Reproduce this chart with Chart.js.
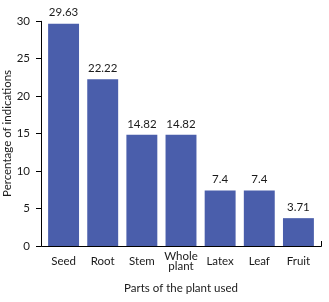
<!DOCTYPE html>
<html lang="en">

<head>
    <meta charset="UTF-8">
    <title>Parts of the plant used</title>
    <style>
        body { margin: 0; background: #fff; }
    </style>
</head>

<body>
    <div style="width: 329px; height: 302px;">
        <canvas id="myChart"></canvas>
    </div>

    <script src="https://cdn.jsdelivr.net/npm/chart.js"></script>

    <script>
        const v_parts = ['Seed', 'Root', 'Stem', ['Whole', 'plant'], 'Latex', 'Leaf', 'Fruit'];
        const v_percent = [29.63, 22.22, 14.82, 14.82, 7.4, 7.4, 3.71];
        const v_valueText = ['29.63', '22.22', '14.82', '14.82', '7.4', '7.4', '3.71'];
        const v_yTicks = [0, 5, 10, 15, 20, 25, 30];

        const v_font = 'Lato';
        const v_size = 11.5;
        const v_textColor = '#1a1a1a';

        // axis lines, tick marks and the value above each bar
        const axisAndLabels = {
            id: 'axisAndLabels',
            afterDatasetsDraw(chart) {
                const ctx = chart.ctx;
                const area = chart.chartArea;
                const y = chart.scales.y;
                const ax = area.left - 3;
                const bx = area.right + 3;
                ctx.save();
                ctx.strokeStyle = '#000';
                ctx.lineWidth = 1;
                ctx.beginPath();
                ctx.moveTo(ax + 0.5, area.top);
                ctx.lineTo(ax + 0.5, area.bottom + 0.5);
                ctx.lineTo(bx + 0.5, area.bottom + 0.5);
                ctx.lineTo(bx + 0.5, area.bottom - 5);
                v_yTicks.forEach(t => {
                    const py = Math.round(y.getPixelForValue(t)) + 0.5;
                    ctx.moveTo(ax - 5, py);
                    ctx.lineTo(ax + 0.5, py);
                });
                ctx.stroke();

                ctx.fillStyle = v_textColor;
                ctx.font = v_size + 'px ' + v_font;
                ctx.textAlign = 'center';
                ctx.textBaseline = 'middle';
                chart.getDatasetMeta(0).data.forEach((bar, i) => {
                    ctx.fillText(v_valueText[i], bar.x, bar.y - 11);
                });
                ctx.restore();
            }
        };

        const ctx = document.getElementById('myChart');

        new Chart(ctx, {
            type: 'bar',
            data: {
                labels: v_parts,
                datasets: [{
                    data: v_percent,
                    backgroundColor: '#4a5eab',
                    borderWidth: 0,
                    barPercentage: 0.79,
                    categoryPercentage: 1
                }]
            },
            options: {
                responsive: true,
                maintainAspectRatio: false,
                animation: false,
                layout: {
                    padding: { top: 20, right: 11, left: 0, bottom: 0 }
                },
                scales: {
                    x: {
                        grid: { display: false, drawTicks: false },
                        border: { display: false },
                        ticks: {
                            color: v_textColor,
                            font: { family: v_font, size: v_size, lineHeight: 0.9 },
                            padding: 10,
                            crossAlign: 'center',
                            maxRotation: 0,
                            autoSkip: false
                        },
                        title: {
                            display: true,
                            text: 'Parts of the plant used',
                            color: v_textColor,
                            font: { family: v_font, size: v_size },
                            padding: { top: 6, bottom: 7 }
                        },
                        afterFit: (scale) => { scale.height = 56; }
                    },
                    y: {
                        min: 0,
                        max: 30,
                        grid: { display: false, drawTicks: false },
                        border: { display: false },
                        ticks: {
                            stepSize: 5,
                            color: v_textColor,
                            font: { family: v_font, size: v_size },
                            padding: 14
                        },
                        title: {
                            display: true,
                            text: 'Percentage of indications',
                            color: v_textColor,
                            font: { family: v_font, size: v_size },
                            padding: { top: 0, bottom: 0 }
                        },
                        afterFit: (scale) => { scale.width = 44; }
                    }
                },
                plugins: {
                    legend: { display: false },
                    tooltip: { enabled: false }
                }
            },
            plugins: [axisAndLabels]
        });
    </script>
</body>

</html>
